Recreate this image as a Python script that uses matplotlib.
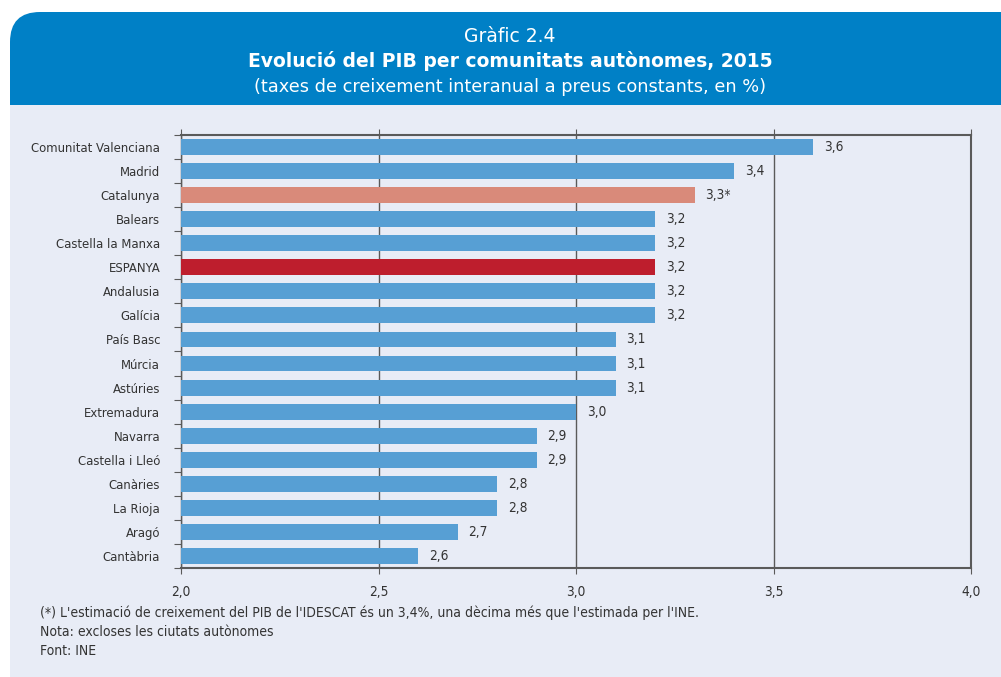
import matplotlib
matplotlib.use("Agg")
import matplotlib.pyplot as plt
from matplotlib.patches import FancyBboxPatch, Rectangle
from matplotlib import font_manager

regions = ["Comunitat Valenciana", "Madrid", "Catalunya", "Balears", "Castella la Manxa",
           "ESPANYA", "Andalusia", "Galícia", "País Basc", "Múrcia", "Astúries",
           "Extremadura", "Navarra", "Castella i Lleó", "Canàries", "La Rioja",
           "Aragó", "Cantàbria"]
values = [3.6, 3.4, 3.3, 3.2, 3.2, 3.2, 3.2, 3.2, 3.1, 3.1, 3.1, 3.0, 2.9, 2.9,
          2.8, 2.8, 2.7, 2.6]
value_labels = ["3,6", "3,4", "3,3*", "3,2", "3,2", "3,2", "3,2", "3,2", "3,1", "3,1",
                "3,1", "3,0", "2,9", "2,9", "2,8", "2,8", "2,7", "2,6"]
xticks = [2.0, 2.5, 3.0, 3.5, 4.0]
xtick_labels = ["2,0", "2,5", "3,0", "3,5", "4,0"]

condensed = [f for f in font_manager.fontManager.ttflist
             if f.name == "DejaVu Sans" and f.stretch == "condensed" and f.weight in (400, "normal")]
plt.rcParams['font.family'] = ['DejaVu Sans']
if condensed:
    plt.rcParams['font.stretch'] = 'condensed'

BLUE = "#579FD4"
CAT = "#D98A7A"
ESP = "#BE1E2D"
HEAD = "#0080C6"
PANEL = "#E8ECF6"
LINE = "#5A5A5A"
TXT = "#333333"

W, H = 1001, 677
fig = plt.figure(figsize=(W / 100, H / 100), dpi=100)
fig.patch.set_facecolor("white")

bg = fig.add_axes([0, 0, 1, 1], zorder=-10)
bg.set_xlim(0, W)
bg.set_ylim(H, 0)
bg.axis("off")
bg.add_patch(Rectangle((10, 100), W - 10, H - 100, facecolor=PANEL, edgecolor="none"))
bg.add_patch(FancyBboxPatch((10, 12), W + 40, 93, boxstyle="round,pad=0,rounding_size=30",
                            facecolor=HEAD, edgecolor="none"))
bg.add_patch(Rectangle((10, 60), W, 45, facecolor=HEAD, edgecolor="none"))

fig.text(510 / W, 1 - 37 / H, "Gràfic 2.4", ha="center", va="center", color="white",
         fontsize=13.5, fontstretch="normal")
fig.text(510 / W, 1 - 61 / H, "Evolució del PIB per comunitats autònomes, 2015", ha="center",
         va="center", color="white", fontsize=13.5, fontweight="bold", fontstretch="normal")
fig.text(510 / W, 1 - 87 / H, "(taxes de creixement interanual a preus constants, en %)",
         ha="center", va="center", color="white", fontsize=12.8, fontstretch="normal")

ax = fig.add_axes([181 / W, 1 - 568 / H, (971 - 181) / W, (568 - 135) / H])
ax.set_facecolor("none")
colors = [CAT if r == "Catalunya" else ESP if r == "ESPANYA" else BLUE for r in regions]
ypos = list(range(len(regions)))
ax.barh(ypos, values, left=0, height=0.66, color=colors, zorder=3)
for y, v, lab in zip(ypos, values, value_labels):
    ax.annotate(lab, (v, y), xytext=(11, 0), textcoords="offset pixels",
                ha="left", va="center", fontsize=9.8, color=TXT)

ax.set_xlim(2.0, 4.0)
ax.set_ylim(len(regions) - 0.5, -0.5)
ax.set_xticks(xticks)
ax.set_xticklabels(xtick_labels, fontsize=9.8, color=TXT)
ax.tick_params(axis="x", direction="out", length=4, color=LINE, top=True, pad=8)
ax.set_yticks([y - 0.5 for y in ypos] + [len(regions) - 0.5])
ax.set_yticklabels([])
ax.set_yticks(ypos, minor=True)
ax.set_yticklabels(regions, minor=True, fontsize=9.4, color=TXT)
ax.tick_params(axis="y", which="major", direction="out", length=5, color=LINE)
ax.tick_params(axis="y", which="minor", length=0, pad=15)
ax.grid(axis="x", color=LINE, linewidth=1.0, zorder=1)
for s in ax.spines.values():
    s.set_color(LINE)
    s.set_linewidth(1.5)
ax.spines["left"].set_linewidth(1.0)

notes = ["(*) L'estimació de creixement del PIB de l'IDESCAT és un 3,4%, una dècima més que l'estimada per l'INE.",
         "Nota: excloses les ciutats autònomes",
         "Font: INE"]
for i, n in enumerate(notes):
    fig.text(40 / W, 1 - (613 + 19 * i) / H, n, ha="left", va="center", fontsize=10,
             color=TXT)

fig.savefig("out.png", dpi=100)
